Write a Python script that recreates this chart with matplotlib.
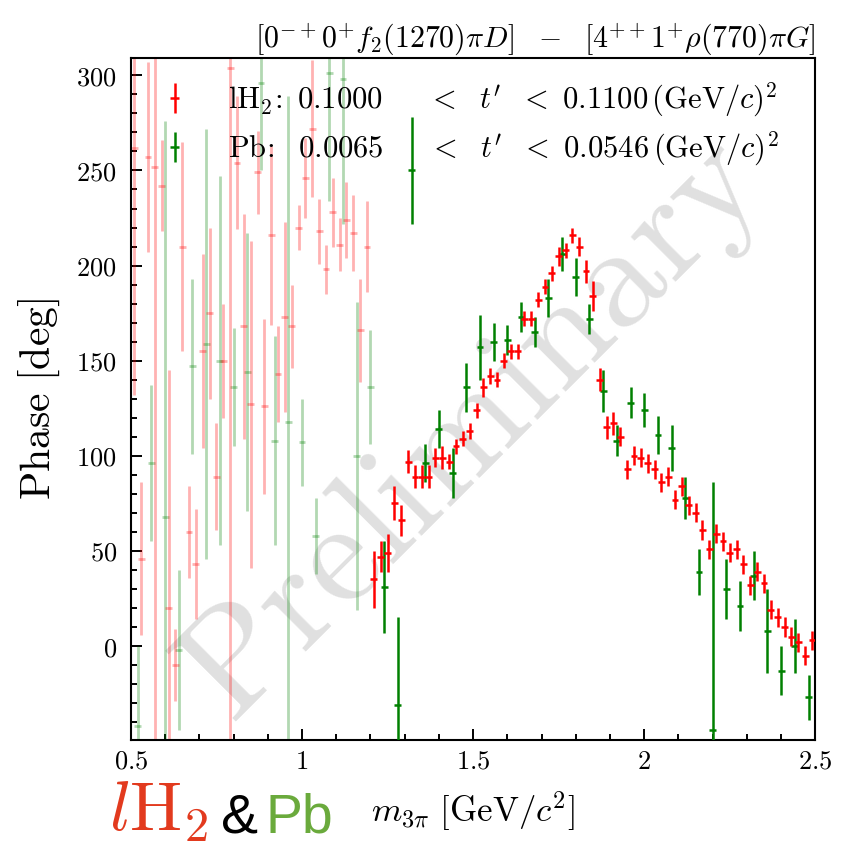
import numpy as np
import matplotlib
matplotlib.use('Agg')
import matplotlib.pyplot as plt
from matplotlib.container import ErrorbarContainer
from matplotlib.legend_handler import HandlerErrorbar
from matplotlib.ticker import MultipleLocator, FuncFormatter

plt.rcParams['mathtext.fontset'] = 'cm'

# lH2 target, 20 MeV bins
h2_mass = np.round(np.arange(0.51, 2.50, 0.02), 3)
h2_phase = [262, 46, 257, 252, 242, 20, -10, 210, 60, 43,
            155, 175, 89, 150, 304, 254, 168, 127, 249, 126,
            216, 143, 173, 168, 220, 246, 272, 218, 198, 228,
            211, 224, 217, 166, 210, 35, 47, 49, 75, 66,
            97, 89, 89, 89, 99, 99, 97, 105, 109, 113,
            124, 136, 142, 140, 150, 155, 155, 172, 172, 182,
            189, 196, 205, 208, 216, 210, 197, 184, 140, 115,
            117, 110, 93, 100, 99, 96, 93, 86, 89, 77,
            84, 74, 70, 61, 51, 59, 55, 49, 51, 43,
            32, 39, 33, 19, 15, 10, 5, 2, -5, 3]
h2_err = [130, 40, 50, 350, 24, 125, 19, 55, 24, 29,
          51, 45, 28, 30, 360, 35, 59, 86, 22, 46,
          47, 25, 50, 22, 12, 21, 36, 17, 13, 18,
          14, 20, 20, 27, 24, 15, 8, 10, 9, 8,
          6, 6, 6, 6, 5, 6, 4, 4, 4, 4,
          4, 5, 4, 4, 4, 4, 4, 4, 4, 4,
          4, 4, 5, 4, 4, 5, 6, 8, 6, 6,
          6, 5, 5, 5, 5, 5, 5, 5, 5, 5,
          5, 5, 5, 5, 5, 5, 5, 5, 5, 5,
          5, 5, 5, 5, 5, 5, 5, 5, 5, 5]

# Pb target, 40 MeV bins
pb_mass = np.round(np.arange(0.52, 2.50, 0.04), 3)
pb_phase = [-42, 96, 68, -2, 147, 159, 150, 136, 144, 296,
            108, 118, 107, 58, 301, 298, 100, 136, 31, -31,
            250, 96, 114, 91, 136, 157, 160, 161, 173, 165,
            183, 206, 194, 172, 134, 108, 128, 124, 111, 104,
            78, 39, -44, 30, 21, 37, 8, -13, 0, -27]
pb_err = [42, 41, 208, 42, 46, 113, 97, 31, 73, 46,
          55, 171, 23, 20, 67, 76, 81, 30, 24, 46,
          28, 10, 10, 13, 13, 17, 10, 8, 8, 8,
          10, 9, 10, 8, 11, 8, 8, 9, 10, 12,
          11, 12, 130, 16, 13, 13, 22, 13, 14, 12]

fade_mass = 1.2   # points at or below are drawn faded

h2_label = r"$\mathrm{lH_2\!:}\ 0.1000\quad\ \ <\ \ t^{\prime}\ \ <\ 0.1100\,\mathrm{(GeV/}c\mathrm{)}^2$"
pb_label = r"$\mathrm{Pb\!:}\ \ 0.0065\quad\ \ <\ \ t^{\prime}\ \ <\ 0.0546\,\mathrm{(GeV/}c\mathrm{)}^2$"
title = r"$[0^{-+}0^{+}f_2(1270)\pi D]\ \ -\ \ [4^{++}1^{+}\rho(770)\pi G]$"


def draw(ax, mass, phase, err, color):
    mass = np.asarray(mass)
    phase = np.asarray(phase, dtype=float)
    err = np.asarray(err, dtype=float)
    low = mass <= fade_mass
    ax.errorbar(mass[low], phase[low], yerr=err[low], xerr=0.01, fmt='none',
                ecolor=color, elinewidth=2.0, alpha=0.3, zorder=2)
    bars = ax.errorbar(mass[~low], phase[~low], yerr=err[~low], xerr=0.01, fmt='none',
                       ecolor=color, elinewidth=1.8, zorder=3)
    return bars


fig = plt.figure(figsize=(8.61, 8.44), dpi=100)
ax = fig.add_axes([0.152, 0.123, 0.795, 0.808])

pb_bars = draw(ax, pb_mass, pb_phase, pb_err, 'green')
h2_bars = draw(ax, h2_mass, h2_phase, h2_err, 'red')

ax.text(0.50, 0.455, r'$\mathrm{Preliminary}$', transform=ax.transAxes, rotation=45,
        fontsize=106, color='#e0e0e0', ha='center', va='center', zorder=1)

ax.set_xlim(0.5, 2.5)
ax.set_ylim(-49.5, 309)
ax.xaxis.set_major_locator(MultipleLocator(0.5))
ax.xaxis.set_minor_locator(MultipleLocator(0.1))
ax.yaxis.set_major_locator(MultipleLocator(50))
ax.yaxis.set_minor_locator(MultipleLocator(10))
fmt = FuncFormatter(lambda v, p: '$%g$' % v)
ax.xaxis.set_major_formatter(fmt)
ax.yaxis.set_major_formatter(fmt)
ax.tick_params(which='both', direction='in', top=False, right=False, width=1.4)
ax.tick_params(which='major', length=8, labelsize=19)
ax.tick_params(axis='y', which='major', pad=10)
ax.tick_params(axis='x', which='major', pad=6)
ax.tick_params(which='minor', length=4)
for s in ax.spines.values():
    s.set_linewidth(1.5)

ax.set_ylabel(r'$\mathrm{Phase\ [deg]}$', fontsize=30)
ax.yaxis.set_label_coords(-0.10, 0.5)
ax.set_xlabel(r'$m_{3\pi}\ [\mathrm{GeV}/c^2]$', fontsize=25)
ax.xaxis.set_label_coords(0.5, -0.072)
ax.set_title(title, loc='right', fontsize=21.5, pad=6)

ax.legend([h2_bars, pb_bars], [h2_label, pb_label], loc='upper left',
          bbox_to_anchor=(0.044, 0.967), frameon=False, fontsize=22,
          handlelength=0.9, handletextpad=1.3, labelspacing=0.35,
          borderpad=0, borderaxespad=0,
          handler_map={ErrorbarContainer: HandlerErrorbar(xerr_size=0.14, yerr_size=0.5)})

# slide overlay at the bottom
fig.text(0.127, 0.016, r'$l\mathrm{H}_2$', fontsize=50, color='#e23a1e', va='baseline')
fig.text(0.257, 0.014, '&', fontsize=40, family='Liberation Sans', color='black', va='baseline')
fig.text(0.308, 0.014, 'Pb', fontsize=40, family='Liberation Sans', color='#6aaa3c', va='baseline')

fig.savefig('out.png', dpi=100)
